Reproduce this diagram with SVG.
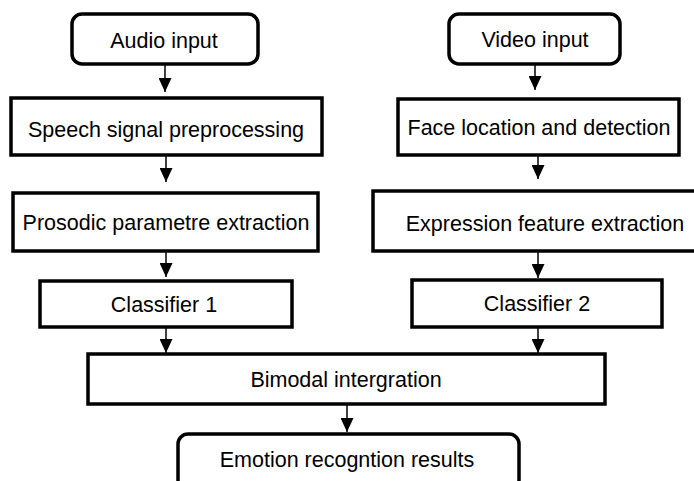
<svg xmlns="http://www.w3.org/2000/svg" width="694" height="481" viewBox="0 0 694 481">
<style>
.box{fill:#fff;stroke:#000;stroke-width:3.5}
.t{font-family:"Liberation Sans",Arial,sans-serif;font-size:21.5px;fill:#000;text-anchor:middle}
.c{stroke:#000;stroke-width:1.5;fill:none;marker-end:url(#ah)}
</style>
<defs>
<marker id="ah" markerUnits="userSpaceOnUse" markerWidth="14" markerHeight="13" refX="14" refY="6.5" orient="auto">
<path d="M0,0 L14,6.5 L0,13 z" fill="#000"/>
</marker>
</defs>
<rect width="694" height="481" fill="#fff"/>
<g id="connectors">
<line class="c" x1="165" y1="64" x2="165" y2="92"/>
<line class="c" x1="166" y1="155" x2="166" y2="182"/>
<line class="c" x1="166" y1="251" x2="166" y2="277"/>
<line class="c" x1="535" y1="64" x2="535" y2="90"/>
<line class="c" x1="538" y1="155" x2="538" y2="179"/>
<line class="c" x1="538" y1="252" x2="538" y2="278"/>
<line class="c" x1="166" y1="327" x2="166" y2="353"/>
<line class="c" x1="538" y1="327" x2="538" y2="353"/>
<line class="c" x1="347" y1="404" x2="347" y2="432"/>
</g>
<g id="audio"><rect class="box" x="72" y="14" width="186" height="50" rx="10"/><text class="t" x="164" y="48">Audio input</text></g>
<g id="video"><rect class="box" x="449" y="14" width="171" height="50" rx="10"/><text class="t" x="535" y="47">Video input</text></g>
<g id="speech"><rect class="box" x="11" y="98" width="311" height="57"/><text class="t" x="166" y="137">Speech signal preprocessing</text></g>
<g id="face"><rect class="box" x="398" y="99" width="281" height="56"/><text class="t" x="539" y="135">Face location and detection</text></g>
<g id="prosodic"><rect class="box" x="13" y="193" width="305" height="58"/><text class="t" x="166" y="230">Prosodic parametre extraction</text></g>
<g id="expression"><rect class="box" x="373" y="191" width="330" height="60"/><text class="t" x="545" y="231">Expression feature extraction</text></g>
<g id="classifier1"><rect class="box" x="40" y="281" width="252" height="46"/><text class="t" x="164" y="312">Classifier 1</text></g>
<g id="classifier2"><rect class="box" x="412" y="280" width="250" height="47"/><text class="t" x="537" y="311">Classifier 2</text></g>
<g id="bimodal"><rect class="box" x="88" y="354" width="517" height="50"/><text class="t" x="346" y="387">Bimodal intergration</text></g>
<g id="emotion"><rect class="box" x="178" y="434" width="341" height="56" rx="10"/><text class="t" x="347" y="467">Emotion recogntion results</text></g>
</svg>
